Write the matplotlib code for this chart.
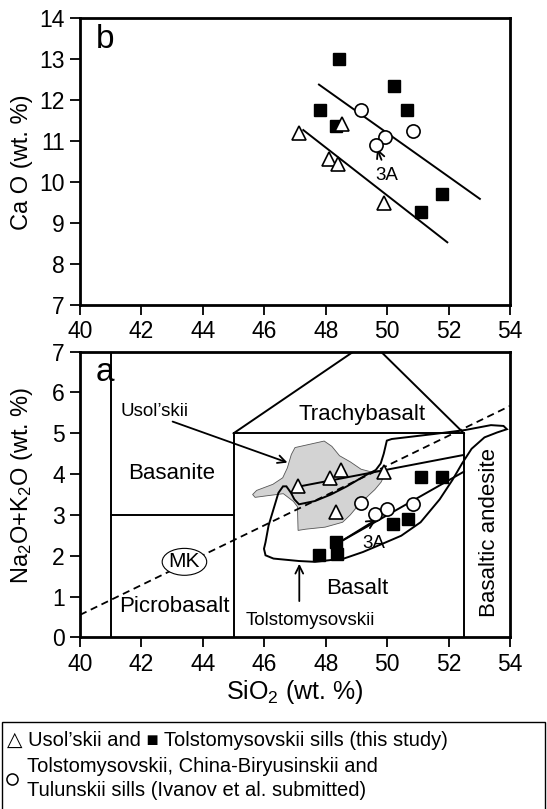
import matplotlib.pyplot as plt
from matplotlib.patches import Ellipse, Polygon, Rectangle
from matplotlib.lines import Line2D

plt.rcParams['font.family'] = ['Liberation Sans', 'DejaVu Sans']
plt.rcParams['mathtext.fontset'] = 'custom'
plt.rcParams['mathtext.rm'] = 'Liberation Sans'
plt.rcParams['mathtext.it'] = 'Liberation Sans:italic'

# ---- panel b: CaO vs SiO2 ----
b_sq_sio2 = [48.43, 50.23, 47.81, 48.34, 50.64, 51.78, 51.09]
b_sq_cao = [13.0, 12.35, 11.75, 11.38, 11.76, 9.70, 9.27]
b_ci_sio2 = [49.14, 49.93, 49.64, 50.85]
b_ci_cao = [11.76, 11.11, 10.90, 11.25]
b_tr_sio2 = [47.14, 48.54, 48.11, 48.39, 49.91]
b_tr_cao = [11.20, 11.41, 10.56, 10.44, 9.50]
b_trend_hi = ([47.78, 53.02], [12.38, 9.59])
b_trend_lo = ([47.27, 51.96], [11.27, 8.53])

# ---- panel a: total alkalis vs SiO2 (TAS) ----
a_sq_sio2 = [47.79, 48.34, 48.38, 50.20, 50.69, 51.09, 51.78]
a_sq_alk = [2.02, 2.33, 2.04, 2.77, 2.89, 3.94, 3.94]
a_ci_sio2 = [49.14, 49.60, 50.01, 50.83]
a_ci_alk = [3.30, 3.02, 3.14, 3.26]
a_tr_sio2 = [47.09, 48.14, 48.49, 48.33, 49.91]
a_tr_alk = [3.71, 3.91, 4.10, 3.06, 4.04]
a_trend_hi = ([47.09, 52.5], [3.69, 4.47])
a_trend_lo = ([48.45, 52.5], [2.33, 4.06])

# TAS field boundaries
tas_x = [[41, 41], [41, 45], [45, 45], [45, 52.5], [52.5, 52.5], [45, 48.9], [52.5, 49.8]]
tas_y = [[0, 7], [3, 3], [0, 5], [5, 5], [0, 5], [5, 7], [5, 7]]
mk_x = [40, 54]
mk_y = [0.55, 5.67]

# Usol'skii field (grey) and Tolstomysovskii field (outline)
usol_x = [45.62, 45.75, 46.28, 46.60, 46.75, 46.88, 47.00, 47.95, 48.20, 48.45, 48.80,
          49.15, 49.50, 49.88, 49.90, 49.80, 49.60, 49.40, 49.00, 48.80, 48.55, 47.98,
          47.35, 47.10, 47.08, 46.95, 46.62, 46.10, 45.70]
usol_y = [3.50, 3.60, 3.75, 3.91, 4.15, 4.48, 4.65, 4.81, 4.68, 4.45, 4.30,
          4.12, 4.05, 4.12, 3.95, 3.80, 3.62, 3.48, 3.18, 3.00, 2.82, 2.70,
          2.65, 2.62, 3.20, 3.33, 3.52, 3.47, 3.43]
tolst_x = [53.90, 53.79, 53.38, 52.54, 51.50, 50.15, 49.99, 49.89, 49.79, 49.63, 49.32,
           48.69, 48.17, 47.65, 47.13, 46.98, 46.87, 46.72, 46.61, 46.46, 46.30, 46.14,
           46.04, 45.99, 46.04, 46.30, 47.13, 47.65, 48.59, 49.21, 49.84, 50.46, 51.09,
           51.71, 52.13, 52.44, 52.75, 53.17, 53.58]
tolst_y = [5.10, 5.18, 5.20, 5.08, 4.98, 4.86, 4.82, 4.50, 4.26, 4.10, 3.98,
           3.70, 3.50, 3.34, 3.26, 3.38, 3.54, 3.70, 3.70, 3.54, 3.14, 2.74,
           2.33, 2.17, 2.01, 1.93, 1.87, 1.85, 1.93, 2.09, 2.29, 2.49, 2.82,
           3.38, 3.86, 4.26, 4.62, 4.90, 5.02]

fig = plt.figure(figsize=(5.47, 8.09), dpi=100)
ax_b = fig.add_axes([0.1463, 0.623, 0.786, 0.3545])
ax_a = fig.add_axes([0.1463, 0.2122, 0.786, 0.3531])

sq_kw = dict(ls='none', marker='s', ms=8, mfc='black', mec='black', zorder=5)
ci_kw = dict(ls='none', marker='o', ms=9.5, mfc='white', mec='black', mew=1.2, zorder=5)
tr_kw = dict(ls='none', marker='^', ms=10, mfc='white', mec='black', mew=1.2, zorder=5)
arrow_kw = dict(arrowstyle='->', color='black', lw=1.3, mutation_scale=14)

for ax in (ax_b, ax_a):
    ax.set_xlim(40, 54)
    ax.set_xticks(range(40, 55, 2))
    for s in ax.spines.values():
        s.set_linewidth(2)
    ax.tick_params(direction='out', length=7, width=1.3, labelsize=16.5, pad=4,
                   top=False, right=False)

# panel b
ax_b.set_ylim(7, 14)
ax_b.set_yticks(range(7, 15))
ax_b.plot(*b_trend_hi, color='black', lw=1.4)
ax_b.plot(*b_trend_lo, color='black', lw=1.4)
ax_b.plot(b_sq_sio2, b_sq_cao, **sq_kw)
ax_b.plot(b_ci_sio2, b_ci_cao, **ci_kw)
ax_b.plot(b_tr_sio2, b_tr_cao, **tr_kw)
ax_b.annotate('', xy=(49.64, 10.88), xytext=(49.85, 10.48), arrowprops=arrow_kw)
ax_b.text(49.98, 10.17, '3A', fontsize=13.5, ha='center', va='center')
ax_b.text(40.5, 13.47, 'b', fontsize=24, ha='left', va='center')

# panel a
ax_a.set_ylim(0, 7)
ax_a.set_yticks(range(0, 8))
for xs, ys in zip(tas_x, tas_y):
    ax_a.plot(xs, ys, color='black', lw=1.4, zorder=2)
ax_a.plot(mk_x, mk_y, color='black', lw=1.3, ls=(0, (4, 2.6)), zorder=3)
ax_a.add_patch(Polygon(list(zip(usol_x, usol_y)), closed=True, fc='#d3d3d3',
                       ec='#555555', lw=0.6, zorder=1))
ax_a.add_patch(Polygon(list(zip(tolst_x, tolst_y)), closed=True, fill=False,
                       ec='black', lw=1.4, zorder=3))
ax_a.plot(*a_trend_hi, color='black', lw=1.4, zorder=3)
ax_a.plot(*a_trend_lo, color='black', lw=1.4, zorder=3)
ax_a.annotate('', xy=(49.72, 2.92), xytext=(48.45, 2.33), arrowprops=arrow_kw, zorder=4)
ax_a.plot(a_sq_sio2, a_sq_alk, **sq_kw)
ax_a.plot(a_ci_sio2, a_ci_alk, **ci_kw)
ax_a.plot(a_tr_sio2, a_tr_alk, **tr_kw)

ax_a.add_patch(Ellipse((43.4, 1.85), 1.45, 0.66, fc='white', ec='black', lw=0.8, zorder=4))
ax_a.text(43.4, 1.85, 'MK', fontsize=15, ha='center', va='center', zorder=5)
ax_a.text(40.5, 6.49, 'a', fontsize=24, ha='left', va='center')
ax_a.text(42.98, 4.02, 'Basanite', fontsize=16, ha='center', va='center')
ax_a.text(43.06, 0.75, 'Picrobasalt', fontsize=16, ha='center', va='center')
ax_a.text(49.17, 5.45, 'Trachybasalt', fontsize=16, ha='center', va='center')
ax_a.text(49.03, 1.2, 'Basalt', fontsize=16, ha='center', va='center')
ax_a.text(53.33, 2.57, 'Basaltic andesite', fontsize=16, ha='center', va='center',
          rotation=90)
ax_a.text(42.44, 5.53, 'Usol\u2019skii', fontsize=13.5, ha='center', va='center')
ax_a.text(47.49, 0.42, 'Tolstomysovskii', fontsize=13.5, ha='center', va='center')
ax_a.text(49.55, 2.3, '3A', fontsize=13.5, ha='center', va='center')
ax_a.annotate('', xy=(46.84, 4.26), xytext=(42.93, 5.31), arrowprops=arrow_kw)
ax_a.annotate('', xy=(47.14, 1.87), xytext=(47.14, 0.82), arrowprops=arrow_kw)

# axis titles
fig.text(22 / 547, 1 - 162 / 809, 'Ca O (wt. %)', rotation=90, fontsize=17,
         ha='center', va='center')
fig.text(22 / 547, 1 - 485 / 809, 'Na$_2$O+K$_2$O (wt. %)', rotation=90, fontsize=17,
         ha='center', va='center')
fig.text(295 / 547, 1 - 692 / 809, 'SiO$_2$ (wt. %)', fontsize=18,
         ha='center', va='center')

# symbol key
fig.patches.append(Rectangle((2 / 547, -0.01), 543 / 547, 1 - 722 / 809 + 0.01,
                             transform=fig.transFigure, fill=False, ec='black', lw=1))
fig.text(7 / 547, 1 - 740 / 809, '\u25b3 Usol\u2019skii and \u25a0 Tolstomysovskii sills (this study)',
         fontsize=14.5, ha='left', va='center')
fig.text(27 / 547, 1 - 767 / 809, 'Tolstomysovskii, China-Biryusinskii and',
         fontsize=14.5, ha='left', va='center')
fig.text(27 / 547, 1 - 790 / 809, 'Tulunskii sills (Ivanov et al. submitted)',
         fontsize=14.5, ha='left', va='center')
fig.add_artist(Line2D([12 / 547], [1 - 779 / 809], transform=fig.transFigure,
                      marker='o', ms=8, mfc='white', mec='black', mew=1.1))

fig.savefig('out.png', dpi=100)
